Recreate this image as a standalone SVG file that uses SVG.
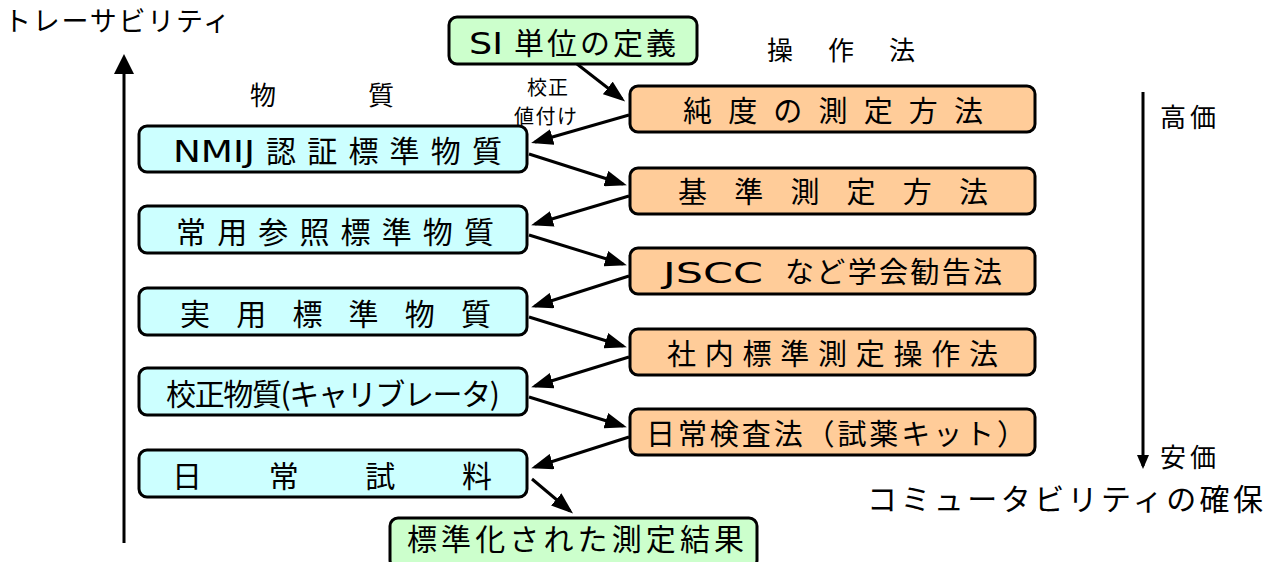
<svg xmlns="http://www.w3.org/2000/svg" width="1276" height="562" viewBox="0 0 1276 562">
<style>
text{font-family:"Noto Sans CJK JP","Noto Sans",sans-serif;fill:#000}
.lat{font-family:"DejaVu Sans","Noto Sans",sans-serif}
.box{stroke:#000;stroke-width:3}
.blue{fill:#ccffff}
.orange{fill:#ffcc99}
.green{fill:#ccffcc}
.bt{font-size:30px}
.ot{font-size:29px}
.lbl{font-size:26px}
.conn line{stroke:#000;stroke-width:3}
</style>
<defs>
<marker id="ah" markerUnits="userSpaceOnUse" markerWidth="22" markerHeight="16" refX="18" refY="8" orient="auto">
<path d="M0,0 L22,8 L0,16 z" fill="#000"/>
</marker>
<marker id="ahbig" markerUnits="userSpaceOnUse" markerWidth="20" markerHeight="20" refX="16" refY="10" orient="auto">
<path d="M0,0 L20,10 L0,20 z" fill="#000"/>
</marker>
<marker id="ahsm" markerUnits="userSpaceOnUse" markerWidth="14" markerHeight="12" refX="11" refY="6" orient="auto">
<path d="M0,0 L14,6 L0,12 z" fill="#000"/>
</marker>
</defs>

<g id="labels">
<text x="4" y="31" font-size="27" textLength="226" lengthAdjust="spacing">トレーサビリティ</text>
<text x="250" y="105" class="lbl">物</text>
<text x="368" y="105" class="lbl">質</text>
<text x="767" y="60" class="lbl" textLength="148" lengthAdjust="spacing">操作法</text>
<text x="527" y="95" font-size="20" textLength="41" lengthAdjust="spacing">校正</text>
<text x="514" y="124" font-size="20" textLength="63" lengthAdjust="spacing">値付け</text>
<text x="1160" y="127" class="lbl" textLength="56" lengthAdjust="spacing">高価</text>
<text x="1160" y="467" class="lbl" textLength="56" lengthAdjust="spacing">安価</text>
<text x="867" y="510" font-size="30" textLength="396" lengthAdjust="spacing">コミュータビリティの確保</text>
</g>

<g id="axes">
<line x1="124" y1="543" x2="124" y2="58" stroke="#000" stroke-width="3" marker-end="url(#ahbig)"/>
<line x1="1143" y1="92" x2="1143" y2="466" stroke="#000" stroke-width="3" marker-end="url(#ahsm)"/>
</g>

<g id="node-si">
<rect class="box green" x="449" y="17" width="248" height="47" rx="8"/>
<text class="bt" y="54"><tspan class="lat" x="469" textLength="34" lengthAdjust="spacingAndGlyphs">SI</tspan><tspan x="514" textLength="162" lengthAdjust="spacing">単位の定義</tspan></text>
</g>

<g id="node-junndo">
<rect class="box orange" x="630" y="86" width="405" height="46" rx="8"/>
<text class="ot" x="683" y="122" textLength="300" lengthAdjust="spacing">純度の測定方法</text>
</g>
<g id="node-kijun">
<rect class="box orange" x="630" y="168" width="405" height="46" rx="8"/>
<text class="ot" x="678" y="203" textLength="310" lengthAdjust="spacing">基準測定方法</text>
</g>
<g id="node-jscc">
<rect class="box orange" x="630" y="248" width="405" height="46" rx="8"/>
<text class="ot" y="283"><tspan class="lat" x="663" textLength="100" lengthAdjust="spacingAndGlyphs">JSCC</tspan><tspan x="785" textLength="217" lengthAdjust="spacing">など学会勧告法</tspan></text>
</g>
<g id="node-shanai">
<rect class="box orange" x="630" y="329" width="405" height="46" rx="8"/>
<text class="ot" x="667" y="365" textLength="331" lengthAdjust="spacing">社内標準測定操作法</text>
</g>
<g id="node-nichijo-kensa">
<rect class="box orange" x="630" y="409" width="405" height="46" rx="8"/>
<text class="ot" x="646" y="445" textLength="380" lengthAdjust="spacing">日常検査法（試薬キット）</text>
</g>

<g id="node-nmij">
<rect class="box blue" x="139" y="126" width="388" height="46" rx="8"/>
<text class="bt" y="162"><tspan class="lat" x="173" textLength="82" lengthAdjust="spacingAndGlyphs">NMIJ</tspan><tspan x="266" textLength="236" lengthAdjust="spacing">認証標準物質</tspan></text>
</g>
<g id="node-joyo">
<rect class="box blue" x="139" y="206" width="388" height="47" rx="8"/>
<text class="bt" x="176" y="243" textLength="318" lengthAdjust="spacing">常用参照標準物質</text>
</g>
<g id="node-jitsuyo">
<rect class="box blue" x="139" y="288" width="388" height="47" rx="8"/>
<text class="bt" x="180" y="325" textLength="311" lengthAdjust="spacing">実用標準物質</text>
</g>
<g id="node-kosei">
<rect class="box blue" x="139" y="368" width="388" height="47" rx="8"/>
<text class="bt" x="166" y="405" textLength="334" lengthAdjust="spacing">校正物質(キャリブレータ)</text>
</g>
<g id="node-nichijo-shiryo">
<rect class="box blue" x="139" y="450" width="388" height="47" rx="8"/>
<text class="bt" x="172" y="487" textLength="320" lengthAdjust="spacing">日常試料</text>
</g>

<g id="node-result">
<rect class="box green" x="390" y="518" width="367" height="50" rx="8"/>
<text class="bt" x="407" y="550" textLength="337" lengthAdjust="spacing">標準化された測定結果</text>
</g>

<g id="connectors" class="conn">
<line x1="577" y1="64" x2="622" y2="99" marker-end="url(#ah)"/>
<line x1="629" y1="115" x2="535" y2="142" marker-end="url(#ah)"/>
<line x1="529" y1="154" x2="623" y2="184" marker-end="url(#ah)"/>
<line x1="629" y1="196" x2="535" y2="224" marker-end="url(#ah)"/>
<line x1="529" y1="235" x2="623" y2="264" marker-end="url(#ah)"/>
<line x1="629" y1="276" x2="535" y2="306" marker-end="url(#ah)"/>
<line x1="529" y1="317" x2="623" y2="346" marker-end="url(#ah)"/>
<line x1="629" y1="357" x2="535" y2="386" marker-end="url(#ah)"/>
<line x1="529" y1="397" x2="623" y2="426" marker-end="url(#ah)"/>
<line x1="629" y1="437" x2="535" y2="467" marker-end="url(#ah)"/>
<line x1="532" y1="479" x2="570" y2="511" marker-end="url(#ah)"/>
</g>
</svg>
